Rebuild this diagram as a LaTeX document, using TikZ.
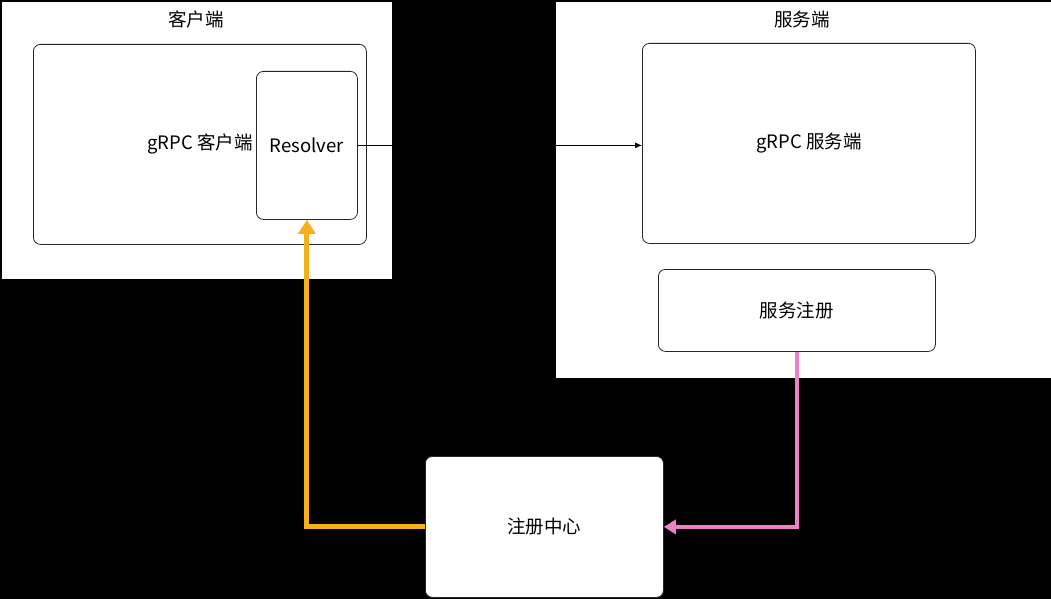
\documentclass[tikz,border=0pt]{standalone}
\usepackage{fontspec}
\setmainfont{Noto Sans CJK SC}
\usetikzlibrary{positioning,arrows.meta}
\definecolor{regorange}{HTML}{F7B01A}
\definecolor{regpink}{HTML}{EE82C6}
\begin{document}
\begin{tikzpicture}[x=1pt,y=-1pt,
				framenode/.style={rectangle,fill=white,draw=none,inner sep=0pt,anchor=north west},
				pnode/.style={rectangle,rounded corners=7pt,draw=black!85,fill=white,line width=0.8pt,inner sep=0pt,anchor=north west,font=\fontsize{18.5}{22}\selectfont},
				titlenode/.style={font=\fontsize{18.5}{22}\selectfont,inner sep=0pt},
				callarrow/.style={draw=black,line width=0.8pt,-{Latex[length=7pt,width=6pt]}},
				pullarrow/.style={draw=regorange,line width=5pt,-{Triangle[length=14pt,width=17pt]}},
				pusharrow/.style={draw=regpink,line width=4pt,-{Triangle[length=12pt,width=14pt]}}
				]
				\fill[black] (0,0) rectangle (1051,599);
				\useasboundingbox (0,0) rectangle (1051,599);
				\node (cf) [framenode,minimum width=390pt,minimum height=277pt] at (2,2) {};
				\node (ct) [titlenode] at (196,19) {客户端};
				\node (sf) [framenode,minimum width=495pt,minimum height=376pt] at (556,2) {};
				\node (st) [titlenode] at (802,19) {服务端};
				\node (gc) [pnode,minimum width=333pt,minimum height=200pt] at (33,44) {gRPC 客户端};
				\node (rs) [pnode,minimum width=101pt,minimum height=148pt] at (256,71) {Resolver};
				\node (gs) [pnode,minimum width=333pt,minimum height=200pt] at (642,43) {gRPC 服务端};
				\node (sr) [pnode,minimum width=277pt,minimum height=82pt] at (658,269) {服务注册};
				\node (rc) [pnode,minimum width=238pt,minimum height=141pt] at (425,456) {注册中心};
				\draw[callarrow] (rs.east) -- (rs.east -| gs.west);
				\draw[pullarrow] (rc.west) -| (rs.south);
				\draw[pusharrow] (sr.south) |- (rc.east);
\end{tikzpicture}
\end{document}
